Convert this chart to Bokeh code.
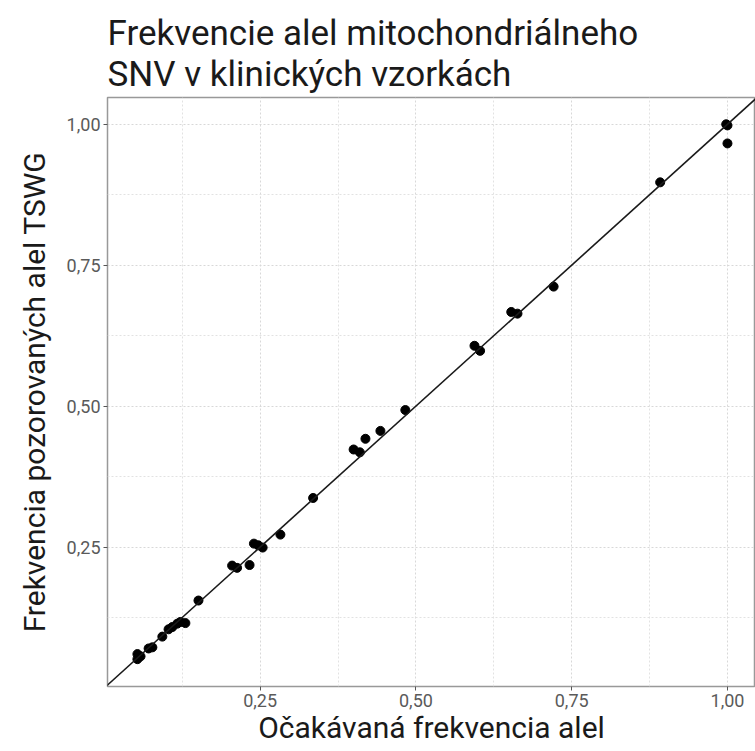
from bokeh.plotting import figure
from bokeh.models import Range1d, FixedTicker, CustomJSTickFormatter, Slope, Title
from bokeh.embed import file_html
from bokeh.resources import INLINE

# expected (x) vs observed (y) allele frequencies
expected = [0.053, 0.053, 0.058, 0.071, 0.077, 0.093, 0.103, 0.109, 0.117, 0.122, 0.130,
            0.151, 0.205, 0.213, 0.233, 0.240, 0.247, 0.254, 0.2825,
            0.335, 0.400, 0.410, 0.419, 0.443, 0.483,
            0.594, 0.603, 0.653, 0.663, 0.721, 0.892, 1.000, 1.000, 0.998]
observed = [0.060, 0.051, 0.056, 0.070, 0.072, 0.091, 0.104, 0.108, 0.114, 0.117, 0.115,
            0.155, 0.217, 0.213, 0.218, 0.256, 0.253, 0.249, 0.272,
            0.337, 0.423, 0.418, 0.442, 0.456, 0.493,
            0.607, 0.598, 0.667, 0.664, 0.712, 0.897, 0.998, 0.966, 1.000]

major_ticks = [0.25, 0.50, 0.75, 1.00]
minor_ticks = [0.125, 0.375, 0.625, 0.875]

title_text = "Frekvencie alel mitochondriálneho\nSNV v klinických vzorkách"
x_label = "Očakávaná frekvencia alel"
y_label = "Frekvencia pozorovaných alel TSWG"

p = figure(width=755, height=751, output_backend="svg", toolbar_location=None,
           x_range=Range1d(0.005, 1.045), y_range=Range1d(0.0025, 1.0475),
           min_border_left=107, min_border_right=0, min_border_top=97, min_border_bottom=65)

p.title = Title(text=title_text, text_font="Roboto", text_font_size="35px",
                text_font_style="normal", text_color="#1a1a1a", align="left",
                standoff=6, text_line_height=1.0)

fmt = CustomJSTickFormatter(code="return tick.toFixed(2).replace('.', ',');")
for ax in (p.xaxis[0], p.yaxis[0]):
    ax.ticker = FixedTicker(ticks=major_ticks, minor_ticks=minor_ticks)
    ax.formatter = fmt
    ax.axis_line_color = None
    ax.major_tick_in = 0
    ax.major_tick_out = 4
    ax.major_tick_line_color = "#555555"
    ax.minor_tick_line_color = None
    ax.major_label_text_font = "Roboto"
    ax.major_label_text_font_size = "18px"
    ax.major_label_text_color = "#5a5a5a"
    ax.major_label_standoff = 3
    ax.axis_label_text_font = "Roboto"
    ax.axis_label_text_font_size = "30px"
    ax.axis_label_text_font_style = "normal"
    ax.axis_label_text_color = "#1a1a1a"

p.xaxis.axis_label = x_label
p.xaxis.axis_label_standoff = 0
p.yaxis.axis_label = y_label
p.yaxis.axis_label_standoff = 12

for g in (p.xgrid[0], p.ygrid[0]):
    g.grid_line_color = "#d8d8d8"
    g.grid_line_dash = "2 2"
    g.grid_line_width = 1
    g.minor_grid_line_color = "#e2e2e2"
    g.minor_grid_line_dash = "2 2"
    g.minor_grid_line_width = 1

p.outline_line_color = "#999999"
p.outline_line_width = 1.5
p.background_fill_color = "white"

p.add_layout(Slope(gradient=1, y_intercept=0, line_color="#1a1a1a", line_width=1.6))
p.scatter(expected, observed, size=9, color="black")

open("out.html", "w").write(file_html(p, INLINE))
